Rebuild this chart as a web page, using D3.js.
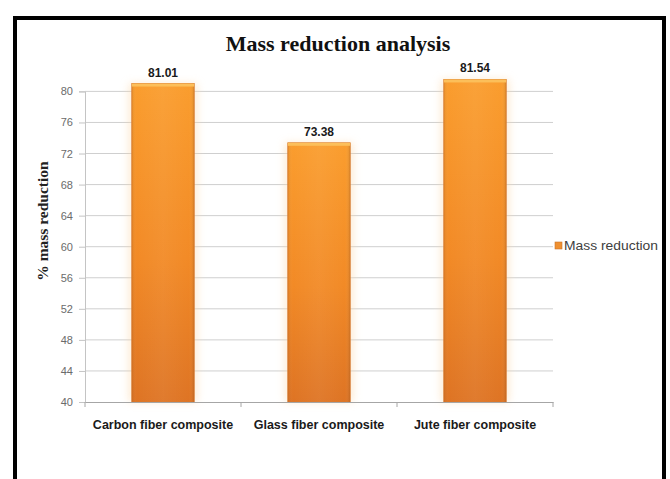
<!DOCTYPE html>
<html>
<head>
<meta charset="utf-8">
<script src="https://cdn.jsdelivr.net/npm/d3@7"></script>
<style>
  html, body { margin: 0; padding: 0; background: #fff; }
  svg { display: block; }
</style>
</head>
<body>
<svg id="chart" width="670" height="479"></svg>
<script>
// Mass reduction by composite type
const categories = ["Carbon fiber composite", "Glass fiber composite", "Jute fiber composite"];
const massReduction = [81.01, 73.38, 81.54];
const yTicks = [40, 44, 48, 52, 56, 60, 64, 68, 72, 76, 80];
const seriesName = "Mass reduction";

const svg = d3.select("#chart");
const plot = { left: 85, right: 553, top: 60, bottom: 402 };
const sans = "'Liberation Sans', Arial, sans-serif";
const serif = "'Liberation Serif', 'DejaVu Serif', serif";

// outer frame
svg.append("rect")
  .attr("x", 15).attr("y", 18)
  .attr("width", 649).attr("height", 500)
  .attr("fill", "#fff").attr("stroke", "#000").attr("stroke-width", 4);

const x = d3.scaleBand()
  .domain(categories)
  .range([plot.left, plot.right])
  .paddingInner(0.6).paddingOuter(0.3);

const y = d3.scaleLinear().domain([40, 80]).range([plot.bottom, plot.bottom - 310.6]);

const defs = svg.append("defs");
const grad = defs.append("linearGradient").attr("id", "barFill")
  .attr("x1", 0).attr("y1", 0).attr("x2", 0).attr("y2", 1);
grad.append("stop").attr("offset", "0%").attr("stop-color", "#fa9d2e");
grad.append("stop").attr("offset", "55%").attr("stop-color", "#f28a26");
grad.append("stop").attr("offset", "100%").attr("stop-color", "#de7424");

const hgrad = defs.append("linearGradient").attr("id", "barSide")
  .attr("x1", 0).attr("y1", 0).attr("x2", 1).attr("y2", 0);
hgrad.append("stop").attr("offset", "0%").attr("stop-color", "#000").attr("stop-opacity", 0.08);
hgrad.append("stop").attr("offset", "8%").attr("stop-color", "#fff").attr("stop-opacity", 0.0);
hgrad.append("stop").attr("offset", "50%").attr("stop-color", "#fff").attr("stop-opacity", 0.05);
hgrad.append("stop").attr("offset", "92%").attr("stop-color", "#fff").attr("stop-opacity", 0.0);
hgrad.append("stop").attr("offset", "100%").attr("stop-color", "#000").attr("stop-opacity", 0.12);

// soft glow around bars
const glow = defs.append("filter").attr("id", "glow")
  .attr("x", "-30%").attr("y", "-10%").attr("width", "160%").attr("height", "120%");
glow.append("feGaussianBlur").attr("stdDeviation", 4);

// gridlines
svg.append("g")
  .selectAll("line")
  .data(yTicks.filter(d => d !== 40))
  .join("line")
  .attr("x1", plot.left).attr("x2", plot.right)
  .attr("y1", d => y(d)).attr("y2", d => y(d))
  .attr("stroke", "#cfcfcf").attr("stroke-width", 1);

// y axis
const yAxis = svg.append("g")
  .attr("transform", `translate(${plot.left},0)`)
  .call(d3.axisLeft(y).tickValues(yTicks).tickSize(6).tickPadding(6).tickFormat(d3.format("d")));
yAxis.select(".domain").attr("stroke", "#c4c4c4");
yAxis.selectAll(".tick line").attr("stroke", "#c4c4c4");
yAxis.selectAll("text")
  .attr("fill", "#6b6b6b")
  .style("font-family", sans)
  .style("font-size", "11px");

// bars
const bars = svg.append("g");
bars.selectAll("rect.halo")
  .data(massReduction)
  .join("rect")
  .attr("class", "halo")
  .attr("x", (d, i) => x(categories[i]) - 3)
  .attr("y", d => y(d))
  .attr("width", x.bandwidth() + 6)
  .attr("height", d => y(40) - y(d))
  .attr("fill", "#fbd7a8").attr("opacity", 0.5)
  .attr("filter", "url(#glow)");
bars.selectAll("rect.bar")
  .data(massReduction)
  .join("rect")
  .attr("class", "bar")
  .attr("x", (d, i) => x(categories[i]))
  .attr("y", d => y(d))
  .attr("width", x.bandwidth())
  .attr("height", d => y(40) - y(d))
  .attr("fill", "url(#barFill)")
  .attr("stroke", "#d9782c").attr("stroke-width", 0.8);
bars.selectAll("rect.side")
  .data(massReduction)
  .join("rect")
  .attr("class", "side")
  .attr("x", (d, i) => x(categories[i]))
  .attr("y", d => y(d))
  .attr("width", x.bandwidth())
  .attr("height", d => y(40) - y(d))
  .attr("fill", "url(#barSide)");
bars.selectAll("rect.cap")
  .data(massReduction)
  .join("rect")
  .attr("class", "cap")
  .attr("x", (d, i) => x(categories[i]))
  .attr("y", d => y(d))
  .attr("width", x.bandwidth())
  .attr("height", 3)
  .attr("fill", "#fcbf5a");

// value labels
svg.append("g")
  .selectAll("text")
  .data(massReduction)
  .join("text")
  .attr("x", (d, i) => x(categories[i]) + x.bandwidth() / 2)
  .attr("y", d => y(d) - 7)
  .attr("text-anchor", "middle")
  .attr("fill", "#1a1a1a")
  .style("font-family", sans)
  .style("font-weight", "bold")
  .style("font-size", "12px")
  .text(d => d.toFixed(2));

// x axis
const xAxis = svg.append("g")
  .attr("transform", `translate(0,${plot.bottom})`)
  .call(d3.axisBottom(x).tickSize(0).tickPadding(18));
xAxis.select(".domain").attr("stroke", "#a6a6a6");
xAxis.selectAll("text")
  .attr("fill", "#1a1a1a")
  .style("font-family", sans)
  .style("font-weight", "bold")
  .style("font-size", "12.5px");
// category divider ticks
svg.append("g")
  .selectAll("line")
  .data(d3.range(categories.length + 1))
  .join("line")
  .attr("x1", i => plot.left + i * (plot.right - plot.left) / categories.length)
  .attr("x2", i => plot.left + i * (plot.right - plot.left) / categories.length)
  .attr("y1", plot.bottom).attr("y2", plot.bottom + 5)
  .attr("stroke", "#a6a6a6");

// title
svg.append("text")
  .attr("x", 338).attr("y", 51)
  .attr("text-anchor", "middle")
  .attr("fill", "#111")
  .style("font-family", serif)
  .style("font-weight", "bold")
  .style("font-size", "22px")
  .text("Mass reduction analysis");

// y axis title
svg.append("text")
  .attr("transform", "translate(48,221) rotate(-90)")
  .attr("text-anchor", "middle")
  .attr("fill", "#222")
  .style("font-family", serif)
  .style("font-weight", "bold")
  .style("font-size", "15.5px")
  .text("% mass reduction");

// legend
const lg = svg.append("g").attr("transform", "translate(555,246)");
lg.append("rect").attr("x", 0).attr("y", -4).attr("width", 7).attr("height", 7)
  .attr("fill", "#ef9030").attr("stroke", "#c9732a").attr("stroke-width", 0.6);
lg.append("text").attr("x", 9).attr("y", 4)
  .attr("fill", "#404040")
  .style("font-family", sans)
  .style("font-size", "12px")
  .attr("textLength", 94)
  .attr("lengthAdjust", "spacingAndGlyphs")
  .text(seriesName);
</script>
</body>
</html>
